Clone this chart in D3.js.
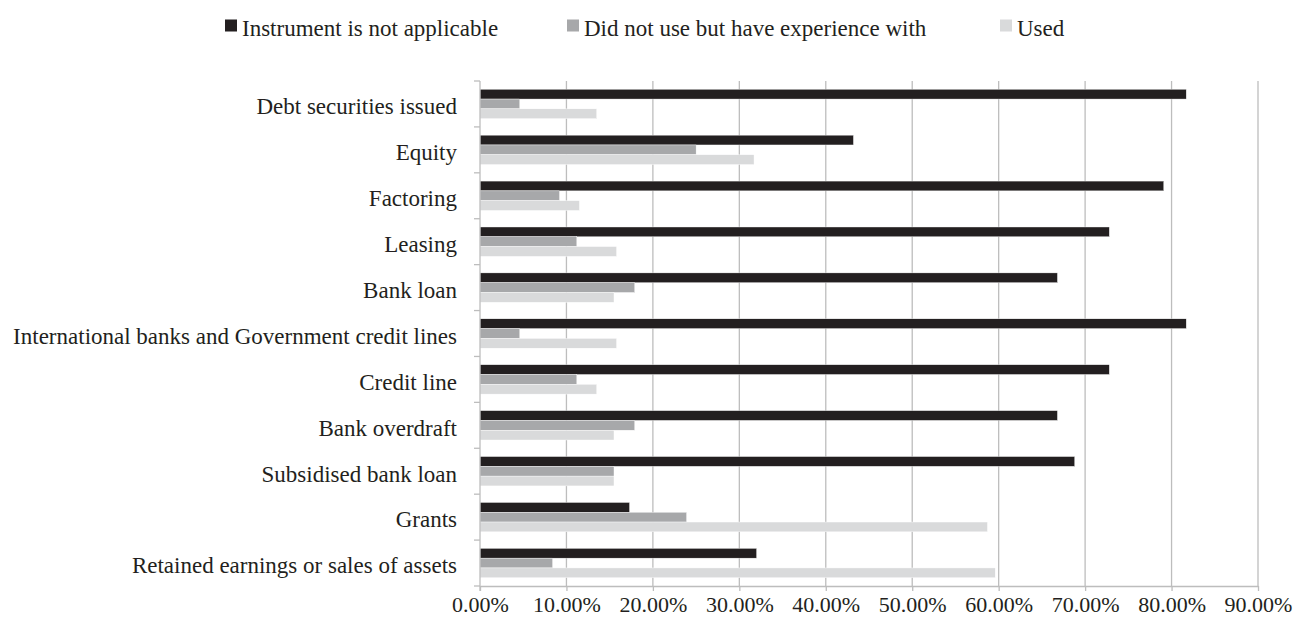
<!DOCTYPE html>
<html>
<head>
<meta charset="utf-8">
<script src="https://cdn.jsdelivr.net/npm/d3@7"></script>
<style>
  body { margin: 0; background: #fff; }
  svg text { font-family: "Liberation Serif", "DejaVu Serif", serif; fill: #231f20; }
</style>
</head>
<body>
<div id="chart"></div>
<script>
// categories, top to bottom
var categories = [
    "Debt securities issued",
    "Equity",
    "Factoring",
    "Leasing",
    "Bank loan",
    "International banks and Government credit lines",
    "Credit line",
    "Bank overdraft",
    "Subsidised bank loan",
    "Grants",
    "Retained earnings or sales of assets"
];

var seriesNames = ["Instrument is not applicable", "Did not use but have experience with", "Used"];

// values in percent
var notApplicable = [81.7, 43.2, 79.1, 72.8, 66.8, 81.7, 72.8, 66.8, 68.8, 17.3, 32.0];
var experience    = [4.6, 25.0, 9.2, 11.2, 17.9, 4.6, 11.2, 17.9, 15.5, 23.9, 8.4];
var used          = [13.5, 31.7, 11.5, 15.8, 15.5, 15.8, 13.5, 15.5, 15.5, 58.7, 59.6];

var xTicks = [0, 10, 20, 30, 40, 50, 60, 70, 80, 90];

var colors = ["#231f20", "#a7a8aa", "#d9dadb"];

var svgWidth = 1298;
var svgHeight = 624;

var margin = { top: 81, right: 40, bottom: 38, left: 480 };
var width = svgWidth - margin.left - margin.right;   // 778
var height = svgHeight - margin.top - margin.bottom; // 505

var fontFamily = '"Liberation Serif", "DejaVu Serif", serif';

var svg = d3.select("#chart")
    .append("svg")
    .attr("width", svgWidth)
    .attr("height", svgHeight);

var chartGroup = svg.append("g")
    .attr("transform", `translate(${margin.left}, ${margin.top})`);

var rows = categories.map(function (c, i) {
    return { cat: c, values: [notApplicable[i], experience[i], used[i]] };
});

// scales
var xScale = d3.scaleLinear()
    .domain([0, 90])
    .range([0, width]);

var yScale = d3.scaleBand()
    .domain(categories)
    .range([0, height])
    .paddingInner(0.36)
    .paddingOuter(0.18);

var ySub = d3.scaleBand()
    .domain([0, 1, 2])
    .range([0, yScale.bandwidth()]);

var axisColor = "#bdbdbd";

// vertical gridlines
chartGroup.selectAll(".grid")
    .data(xTicks.slice(1))
    .enter()
    .append("line")
    .attr("x1", d => xScale(d))
    .attr("x2", d => xScale(d))
    .attr("y1", 0)
    .attr("y2", height)
    .attr("stroke", axisColor)
    .attr("stroke-width", 1.3);

// bars
var groups = chartGroup.selectAll(".cat")
    .data(rows)
    .enter()
    .append("g")
    .attr("transform", d => `translate(0, ${yScale(d.cat)})`);

groups.selectAll("rect")
    .data(d => d.values)
    .enter()
    .append("rect")
    .attr("x", xScale(0))
    .attr("y", (d, i) => ySub(i))
    .attr("width", d => xScale(d) - xScale(0))
    .attr("height", ySub.bandwidth())
    .attr("fill", (d, i) => colors[i])
    .attr("stroke", "#ffffff")
    .attr("stroke-width", 0.4);

// bottom axis
var bottomAxis = d3.axisBottom(xScale)
    .tickValues(xTicks)
    .tickSizeInner(5)
    .tickSizeOuter(0)
    .tickPadding(5)
    .tickFormat(d => d.toFixed(2) + "%");

var xAxisG = chartGroup.append("g")
    .attr("transform", `translate(0, ${height})`)
    .call(bottomAxis);

xAxisG.select(".domain").attr("stroke", axisColor).attr("stroke-width", 1.3);
xAxisG.selectAll(".tick line").attr("stroke", axisColor).attr("stroke-width", 1.3);
xAxisG.selectAll(".tick text")
    .style("font-family", fontFamily)
    .style("font-size", "22px")
    .style("fill", "#231f20");

// left axis: ticks between categories, labels on each band
var step = yScale.step();
var boundaries = d3.range(categories.length + 1).map(i => yScale(categories[0]) - step * 0.18 + i * step);

chartGroup.append("line")
    .attr("x1", 0).attr("x2", 0)
    .attr("y1", 0).attr("y2", height + 5)
    .attr("stroke", axisColor)
    .attr("stroke-width", 1.3);

chartGroup.selectAll(".ytick")
    .data(boundaries)
    .enter()
    .append("line")
    .attr("x1", -6).attr("x2", 0)
    .attr("y1", d => d).attr("y2", d => d)
    .attr("stroke", axisColor)
    .attr("stroke-width", 1.3);

chartGroup.selectAll(".ylabel")
    .data(categories)
    .enter()
    .append("text")
    .attr("x", -23)
    .attr("y", d => yScale(d) + yScale.bandwidth() / 2)
    .attr("dy", "0.45em")
    .attr("text-anchor", "end")
    .style("font-family", fontFamily)
    .style("font-size", "23px")
    .text(d => d);

// legend
var legendX = [225, 567, 1000];
var legend = svg.selectAll(".legend")
    .data(seriesNames)
    .enter()
    .append("g")
    .attr("transform", (d, i) => `translate(${legendX[i]}, 19.5)`);

legend.append("rect")
    .attr("width", 12)
    .attr("height", 12)
    .attr("fill", (d, i) => colors[i]);

legend.append("text")
    .attr("x", 17)
    .attr("y", 16)
    .style("font-family", fontFamily)
    .style("font-size", "23px")
    .text(d => d);
</script>
</body>
</html>
